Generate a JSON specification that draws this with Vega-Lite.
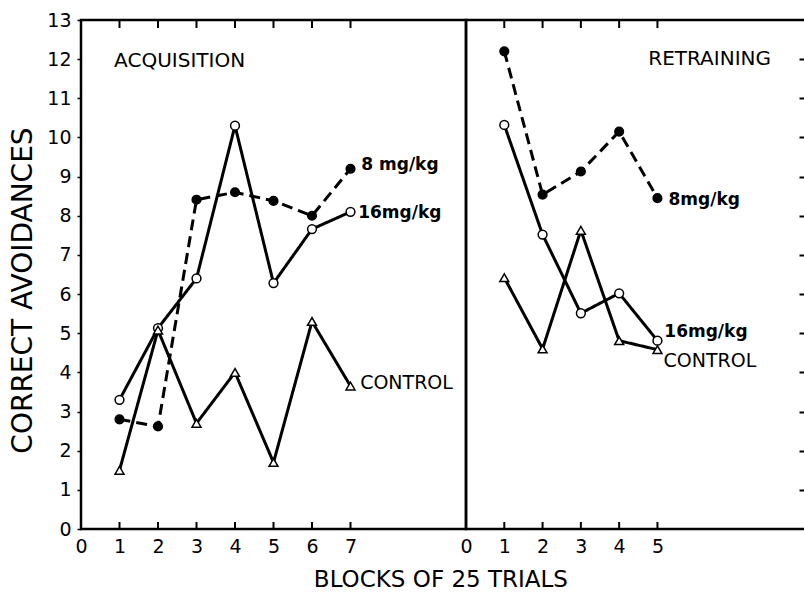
{
  "$schema": "https://vega.github.io/schema/vega-lite/v6.json",
  "background": "white",
  "padding": {"left": 8, "top": 9, "right": 0, "bottom": 0},
  "spacing": 0,
  "bounds": "flush",
  "title": {"text": "BLOCKS OF 25 TRIALS", "orient": "bottom", "anchor": "middle", "fontSize": 23, "font": "DejaVu Sans", "fontWeight": "normal", "color": "black", "offset": 12, "dx": 33},
  "datasets": {
    "acq": [
      {"series": "8 mg/kg", "block": 1, "value": 2.8},
      {"series": "8 mg/kg", "block": 2, "value": 2.62},
      {"series": "8 mg/kg", "block": 3, "value": 8.41},
      {"series": "8 mg/kg", "block": 4, "value": 8.6},
      {"series": "8 mg/kg", "block": 5, "value": 8.38},
      {"series": "8 mg/kg", "block": 6, "value": 8.0},
      {"series": "8 mg/kg", "block": 7, "value": 9.2},
      {"series": "16 mg/kg", "block": 1, "value": 3.3},
      {"series": "16 mg/kg", "block": 2, "value": 5.13},
      {"series": "16 mg/kg", "block": 3, "value": 6.4},
      {"series": "16 mg/kg", "block": 4, "value": 10.3},
      {"series": "16 mg/kg", "block": 5, "value": 6.28},
      {"series": "16 mg/kg", "block": 6, "value": 7.66},
      {"series": "16 mg/kg", "block": 7, "value": 8.1},
      {"series": "CONTROL", "block": 1, "value": 1.5},
      {"series": "CONTROL", "block": 2, "value": 5.08},
      {"series": "CONTROL", "block": 3, "value": 2.7},
      {"series": "CONTROL", "block": 4, "value": 4.0},
      {"series": "CONTROL", "block": 5, "value": 1.7},
      {"series": "CONTROL", "block": 6, "value": 5.3},
      {"series": "CONTROL", "block": 7, "value": 3.65}
    ],
    "ret": [
      {"series": "8 mg/kg", "block": 1, "value": 12.2},
      {"series": "8 mg/kg", "block": 2, "value": 8.54},
      {"series": "8 mg/kg", "block": 3, "value": 9.13},
      {"series": "8 mg/kg", "block": 4, "value": 10.15},
      {"series": "8 mg/kg", "block": 5, "value": 8.45},
      {"series": "16 mg/kg", "block": 1, "value": 10.32},
      {"series": "16 mg/kg", "block": 2, "value": 7.52},
      {"series": "16 mg/kg", "block": 3, "value": 5.51},
      {"series": "16 mg/kg", "block": 4, "value": 6.02},
      {"series": "16 mg/kg", "block": 5, "value": 4.81},
      {"series": "CONTROL", "block": 1, "value": 6.42},
      {"series": "CONTROL", "block": 2, "value": 4.6},
      {"series": "CONTROL", "block": 3, "value": 7.63},
      {"series": "CONTROL", "block": 4, "value": 4.81},
      {"series": "CONTROL", "block": 5, "value": 4.58}
    ],
    "acqTicks": [{"block": 1}, {"block": 2}, {"block": 3}, {"block": 4}, {"block": 5}, {"block": 6}, {"block": 7}],
    "retTicks": [{"block": 1}, {"block": 2}, {"block": 3}, {"block": 4}, {"block": 5}],
    "acqLabels": [
      {"label": "ACQUISITION", "block": 0.86, "value": 11.96, "kind": "title"},
      {"label": "8 mg/kg", "block": 7.28, "value": 9.3, "kind": "series"},
      {"label": "16mg/kg", "block": 7.2, "value": 8.07, "kind": "series"},
      {"label": "CONTROL", "block": 7.25, "value": 3.72, "kind": "control"}
    ],
    "retLabels": [
      {"label": "RETRAINING", "block": 4.76, "value": 12.0, "kind": "title"},
      {"label": "8mg/kg", "block": 5.29, "value": 8.4, "kind": "series"},
      {"label": "16mg/kg", "block": 5.18, "value": 5.04, "kind": "series"},
      {"label": "CONTROL", "block": 5.16, "value": 4.3, "kind": "control"}
    ]
  },
  "hconcat": [
    {
      "width": 385,
      "height": 509,
      "resolve": {"axis": {"x": "independent", "y": "independent"}},
      "layer": [
        {
          "data": {"name": "acq"},
          "mark": {"type": "line", "strokeWidth": 3, "color": "black"},
          "encoding": {
            "x": {"field": "block", "type": "quantitative", "scale": {"domain": [0, 10], "nice": false},
                  "axis": {"orient": "bottom", "values": [0, 1, 2, 3, 4, 5, 6, 7], "format": "d", "ticks": false, "labelPadding": 8, "labelOverlap": false, "labelBound": false, "labelFlush": false, "grid": false, "domain": false, "title": null}},
            "y": {"field": "value", "type": "quantitative", "scale": {"domain": [0, 13], "nice": false},
                  "axis": {"orient": "left", "values": [0,1,2,3,4,5,6,7,8,9,10,11,12,13], "format": "d", "tickSize": 4, "tickWidth": 1.5, "tickColor": "black", "labelPadding": 6, "labelOverlap": false, "grid": false, "domain": false, "title": "CORRECT AVOIDANCES", "titleFontSize": 28, "titlePadding": 9, "titleY": 270}},
            "detail": {"field": "series"},
            "strokeDash": {"field": "series", "type": "nominal", "scale": {"domain": ["8 mg/kg", "16 mg/kg", "CONTROL"], "range": [[11, 6], [1, 0], [1, 0]]}, "legend": null}
          }
        },
        {
          "data": {"name": "acqTicks"},
          "mark": {"type": "rule", "color": "black", "strokeWidth": 2, "y2Offset": -7},
          "encoding": {
            "x": {"field": "block", "type": "quantitative", "axis": null},
            "y": {"datum": 0, "type": "quantitative", "axis": null},
            "y2": {"datum": 0}
          }
        },
        {
          "data": {"name": "acqTicks"},
          "mark": {"type": "rule", "color": "black", "strokeWidth": 2, "y2Offset": 8},
          "encoding": {
            "x": {"field": "block", "type": "quantitative", "axis": null},
            "y": {"datum": 13, "type": "quantitative", "axis": null},
            "y2": {"datum": 13}
          }
        },
        {
          "data": {"name": "acq"},
          "mark": {"type": "point", "filled": true, "stroke": "black", "strokeWidth": 1.5, "opacity": 1},
          "encoding": {
            "x": {"field": "block", "type": "quantitative", "axis": null},
            "y": {"field": "value", "type": "quantitative", "axis": null},
            "shape": {"field": "series", "type": "nominal", "scale": {"domain": ["8 mg/kg", "16 mg/kg", "CONTROL"], "range": ["circle", "circle", "triangle-up"]}, "legend": null},
            "fill": {"field": "series", "type": "nominal", "scale": {"domain": ["8 mg/kg", "16 mg/kg", "CONTROL"], "range": ["black", "white", "white"]}, "legend": null},
            "size": {"field": "series", "type": "nominal", "scale": {"domain": ["8 mg/kg", "16 mg/kg", "CONTROL"], "range": [75, 80, 60]}, "legend": null}
          }
        },
        {
          "data": {"name": "acqLabels"},
          "transform": [{"filter": "datum.kind === 'title'"}],
          "mark": {"type": "text", "align": "left", "baseline": "middle", "font": "DejaVu Sans", "fontSize": 20, "color": "black"},
          "encoding": {
            "x": {"field": "block", "type": "quantitative", "axis": null},
            "y": {"field": "value", "type": "quantitative", "axis": null},
            "text": {"field": "label"}
          }
        },
        {
          "data": {"name": "acqLabels"},
          "transform": [{"filter": "datum.kind === 'series'"}],
          "mark": {"type": "text", "align": "left", "baseline": "middle", "font": "DejaVu Sans", "fontSize": 17, "fontWeight": "bold", "color": "black"},
          "encoding": {
            "x": {"field": "block", "type": "quantitative", "axis": null},
            "y": {"field": "value", "type": "quantitative", "axis": null},
            "text": {"field": "label"}
          }
        },
        {
          "data": {"name": "acqLabels"},
          "transform": [{"filter": "datum.kind === 'control'"}],
          "mark": {"type": "text", "align": "left", "baseline": "middle", "font": "DejaVu Sans", "fontSize": 19, "color": "black"},
          "encoding": {
            "x": {"field": "block", "type": "quantitative", "axis": null},
            "y": {"field": "value", "type": "quantitative", "axis": null},
            "text": {"field": "label"}
          }
        }
      ]
    },
    {
      "width": 340,
      "height": 509,
      "resolve": {"axis": {"x": "independent", "y": "independent"}},
      "layer": [
        {
          "data": {"name": "ret"},
          "mark": {"type": "line", "strokeWidth": 3, "color": "black"},
          "encoding": {
            "x": {"field": "block", "type": "quantitative", "scale": {"domain": [0, 8.88], "nice": false},
                  "axis": {"orient": "bottom", "values": [0, 1, 2, 3, 4, 5], "format": "d", "ticks": false, "labelPadding": 8, "labelOverlap": false, "labelBound": false, "labelFlush": false, "grid": false, "domain": false, "title": null}},
            "y": {"field": "value", "type": "quantitative", "scale": {"domain": [0, 13], "nice": false}, "axis": null},
            "detail": {"field": "series"},
            "strokeDash": {"field": "series", "type": "nominal", "scale": {"domain": ["8 mg/kg", "16 mg/kg", "CONTROL"], "range": [[11, 6], [1, 0], [1, 0]]}, "legend": null}
          }
        },
        {
          "data": {"name": "retTicks"},
          "mark": {"type": "rule", "color": "black", "strokeWidth": 2, "y2Offset": -7},
          "encoding": {
            "x": {"field": "block", "type": "quantitative", "axis": null},
            "y": {"datum": 0, "type": "quantitative", "axis": null},
            "y2": {"datum": 0}
          }
        },
        {
          "data": {"name": "retTicks"},
          "mark": {"type": "rule", "color": "black", "strokeWidth": 2, "y2Offset": 8},
          "encoding": {
            "x": {"field": "block", "type": "quantitative", "axis": null},
            "y": {"datum": 13, "type": "quantitative", "axis": null},
            "y2": {"datum": 13}
          }
        },
        {
          "data": {"name": "ret"},
          "mark": {"type": "point", "filled": true, "stroke": "black", "strokeWidth": 1.5, "opacity": 1},
          "encoding": {
            "x": {"field": "block", "type": "quantitative", "axis": null},
            "y": {"field": "value", "type": "quantitative", "axis": {"orient": "right", "values": [1,2,3,4,5,6,7,8,9,10,11,12], "labels": false, "offset": -7, "tickSize": 6, "tickWidth": 2, "tickColor": "black", "grid": false, "domain": false, "title": null}},
            "shape": {"field": "series", "type": "nominal", "scale": {"domain": ["8 mg/kg", "16 mg/kg", "CONTROL"], "range": ["circle", "circle", "triangle-up"]}, "legend": null},
            "fill": {"field": "series", "type": "nominal", "scale": {"domain": ["8 mg/kg", "16 mg/kg", "CONTROL"], "range": ["black", "white", "white"]}, "legend": null},
            "size": {"field": "series", "type": "nominal", "scale": {"domain": ["8 mg/kg", "16 mg/kg", "CONTROL"], "range": [75, 80, 60]}, "legend": null}
          }
        },
        {
          "data": {"name": "retLabels"},
          "transform": [{"filter": "datum.kind === 'title'"}],
          "mark": {"type": "text", "align": "left", "baseline": "middle", "font": "DejaVu Sans", "fontSize": 20, "color": "black"},
          "encoding": {
            "x": {"field": "block", "type": "quantitative", "axis": null},
            "y": {"field": "value", "type": "quantitative", "axis": null},
            "text": {"field": "label"}
          }
        },
        {
          "data": {"name": "retLabels"},
          "transform": [{"filter": "datum.kind === 'series'"}],
          "mark": {"type": "text", "align": "left", "baseline": "middle", "font": "DejaVu Sans", "fontSize": 17, "fontWeight": "bold", "color": "black"},
          "encoding": {
            "x": {"field": "block", "type": "quantitative", "axis": null},
            "y": {"field": "value", "type": "quantitative", "axis": null},
            "text": {"field": "label"}
          }
        },
        {
          "data": {"name": "retLabels"},
          "transform": [{"filter": "datum.kind === 'control'"}],
          "mark": {"type": "text", "align": "left", "baseline": "middle", "font": "DejaVu Sans", "fontSize": 19, "color": "black"},
          "encoding": {
            "x": {"field": "block", "type": "quantitative", "axis": null},
            "y": {"field": "value", "type": "quantitative", "axis": null},
            "text": {"field": "label"}
          }
        }
      ]
    }
  ],
  "config": {
    "view": {"stroke": "black", "strokeWidth": 2.5},
    "axis": {"labelFont": "DejaVu Sans", "labelFontSize": 19, "labelColor": "black", "titleFont": "DejaVu Sans", "titleFontWeight": "normal", "titleColor": "black"},
    "title": {"font": "DejaVu Sans"}
  }
}
